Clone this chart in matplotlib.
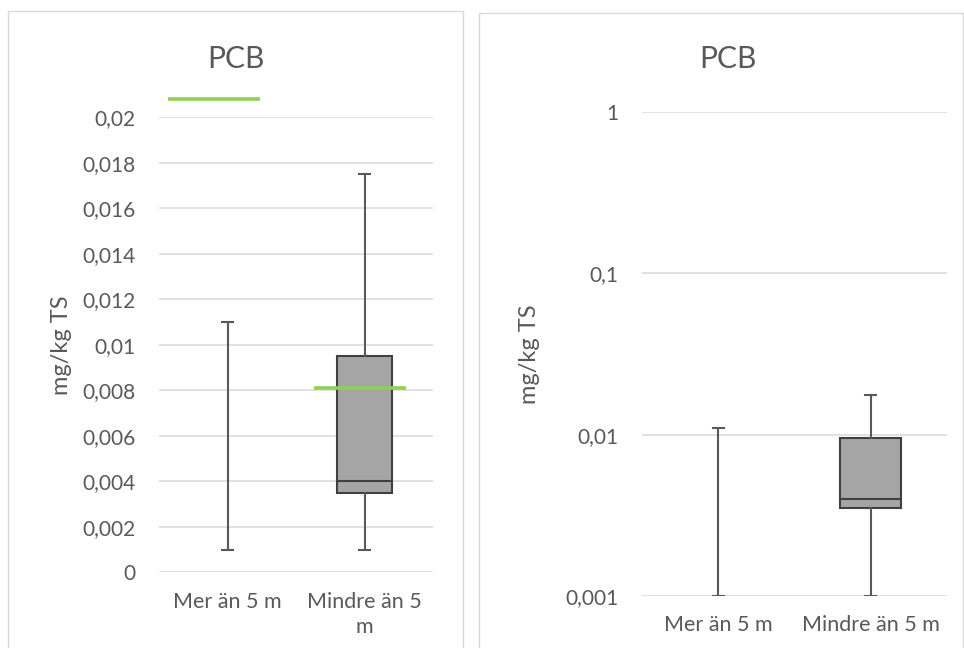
import matplotlib
matplotlib.use("Agg")
import matplotlib.pyplot as plt
from matplotlib.patches import Rectangle
from matplotlib.ticker import NullLocator
import numpy as np

plt.rcParams['font.family'] = ['Lato', 'DejaVu Sans']

# data
categories = ['Mer än 5 m', 'Mindre än 5 m']
categories_wrapped = ['Mer än 5 m', 'Mindre än 5\nm']
whisker_low = [0.001, 0.001]
q1 = [0.001, 0.0035]
median = [0.001, 0.004]
q3 = [0.001, 0.0095]
whisker_high = [0.011, 0.0175]
show_box = [False, True]
green_values = [0.0208, 0.0081]

lin_ticks = np.arange(0, 0.0201, 0.002)
log_ticks = [0.001, 0.01, 0.1, 1]

TXT = '#595959'
GRID = '#d9d9d9'
BOXFACE = '#a5a5a5'
BOXEDGE = '#404040'
GREEN = '#92d050'

W, H = 964, 648
fig = plt.figure(figsize=(W / 100, H / 100), dpi=100)


def px_axes(x0, x1, ytop, ybot):
    return fig.add_axes([x0 / W, 1 - ybot / H, (x1 - x0) / W, (ybot - ytop) / H])


def comma(v):
    return f"{v:g}".replace('.', ',')


# panel borders
fig.patches.append(Rectangle((7.5 / W, -0.05), 455 / W, 1.05 - 11.5 / H,
                             transform=fig.transFigure, fill=False,
                             edgecolor=GRID, lw=1.0))
fig.patches.append(Rectangle((478.5 / W, -0.05), 484 / W, 1.05 - 13.5 / H,
                             transform=fig.transFigure, fill=False,
                             edgecolor=GRID, lw=1.0))

stats = []
for i in range(len(categories)):
    stats.append(dict(med=median[i], q1=q1[i], q3=q3[i],
                      whislo=whisker_low[i], whishi=whisker_high[i]))


def draw(ax, capw):
    art = ax.bxp(stats, positions=[1, 2], widths=0.4, capwidths=capw,
                 patch_artist=True, showfliers=False,
                 boxprops=dict(facecolor=BOXFACE, edgecolor=BOXEDGE, linewidth=1.5),
                 whiskerprops=dict(color=TXT, linewidth=1.5),
                 capprops=dict(color=TXT, linewidth=1.5),
                 medianprops=dict(color=BOXEDGE, linewidth=1.5))
    for i, s in enumerate(show_box):
        if not s:
            art['boxes'][i].set_visible(False)
            art['medians'][i].set_visible(False)
    ax.set_xlim(0.5, 2.5)
    for sp in ax.spines.values():
        sp.set_visible(False)
    ax.set_axisbelow(True)
    ax.yaxis.grid(True, color=GRID, lw=1.1)
    ax.tick_params(length=0, labelsize=15, labelcolor=TXT)
    ax.tick_params(axis='y', pad=17)
    ax.tick_params(axis='x', pad=14, labelsize=15.5)


# left panel, linear
ax1 = px_axes(159.3, 433, 117.3, 572.3)
draw(ax1, 0.078)
ax1.set_ylim(0, 0.02)
ax1.set_yticks(lin_ticks)
ax1.set_yticklabels([comma(v) for v in lin_ticks])
ax1.set_xticks([1, 2])
ax1.set_xticklabels(categories_wrapped, linespacing=1.3)
ax1.set_ylabel('mg/kg TS', fontsize=17, color=TXT)
ax1.yaxis.set_label_coords(-0.319, 0.5)

lo_off = [-0.436, -0.37]
hi_off = [0.236, 0.303]
for i, g in enumerate(green_values):
    ax1.hlines(g, i + 1 + lo_off[i], i + 1 + hi_off[i], color=GREEN,
               lw=2.6, clip_on=False, zorder=5)

# right panel, log
ax2 = px_axes(642, 947, 112, 596)
draw(ax2, 0.07)
ax2.set_yscale('log')
ax2.set_ylim(0.001, 1)
ax2.set_yticks(log_ticks)
ax2.yaxis.set_minor_locator(NullLocator())
ax2.set_yticklabels([comma(v) for v in log_ticks])
ax2.set_xticks([1, 2])
ax2.set_xticklabels(categories)
ax2.set_ylabel('mg/kg TS', fontsize=17, color=TXT)
ax2.yaxis.set_label_coords(-0.334, 0.5)

fig.text(236 / W, 1 - 68.3 / H, 'PCB', fontsize=21.6, color=TXT,
         ha='center', va='baseline')
fig.text(728 / W, 1 - 68.3 / H, 'PCB', fontsize=21.6, color=TXT,
         ha='center', va='baseline')

fig.savefig('out.png', dpi=100)
